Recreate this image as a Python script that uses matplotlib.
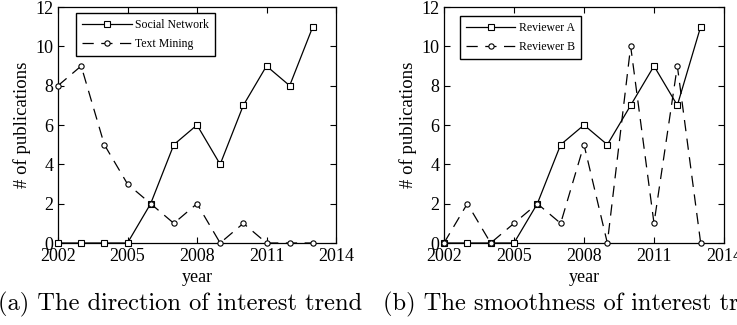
import matplotlib
matplotlib.use('Agg')
import matplotlib.pyplot as plt

# data
years = [2002, 2003, 2004, 2005, 2006, 2007, 2008, 2009, 2010, 2011, 2012, 2013]
social_network = [0, 0, 0, 0, 2, 5, 6, 4, 7, 9, 8, 11]
text_mining = [8, 9, 5, 3, 2, 1, 2, 0, 1, 0, 0, 0]
reviewer_a = [0, 0, 0, 0, 2, 5, 6, 5, 7, 9, 7, 11]
reviewer_b = [0, 2, 0, 1, 2, 1, 5, 0, 10, 1, 9, 0]
xticks = [2002, 2005, 2008, 2011, 2014]
yticks = [0, 2, 4, 6, 8, 10, 12]

W, H = 737, 325
plt.rcParams['font.family'] = ['Liberation Serif', 'DejaVu Serif']

fig = plt.figure(figsize=(W / 100, H / 100), dpi=100)


def px_axes(left, top, right, bottom):
    return fig.add_axes([left / W, 1 - bottom / H, (right - left) / W, (bottom - top) / H])


def draw(ax, a, b, la, lb, leg_anchor):
    ax.plot(years, a, color='black', lw=0.9, marker='s', ms=4.5, mfc='white', mec='black',
            mew=0.8, label=la, clip_on=False, zorder=3)
    ax.plot(years, b, color='black', lw=0.9, ls=(0, (9, 6)), marker='o', ms=3.8, mfc='white',
            mec='black', mew=0.8, label=lb, clip_on=False, zorder=3)
    ax.set_xlim(2002, 2014)
    ax.set_ylim(0, 12)
    ax.set_xticks(xticks)
    ax.set_yticks(yticks)
    ax.tick_params(direction='in', top=True, right=True, labelsize=13, length=4, pad=3.5)
    for s in ax.spines.values():
        s.set_linewidth(0.9)
    ax.set_xlabel('year', fontsize=13, labelpad=3)
    ax.set_ylabel('# of publications', fontsize=13.5, labelpad=3)
    leg = ax.legend(loc='upper left', bbox_to_anchor=leg_anchor, borderaxespad=0,
                    fontsize=8.5, fancybox=False, edgecolor='black', framealpha=1,
                    handlelength=4.2, borderpad=0.5, labelspacing=0.6, handletextpad=0.3)
    leg.get_frame().set_linewidth(1.0)


ax1 = px_axes(58, 7, 336, 243)
draw(ax1, social_network, text_mining, 'Social Network', 'Text Mining', (0.065, 0.975))
ax2 = px_axes(444, 7, 724, 243)
draw(ax2, reviewer_a, reviewer_b, 'Reviewer A', 'Reviewer B', (0.057, 0.96))

fig.text(-2 / W, 1 - 304 / H, '(a) The direction of interest trend', family='cmr10',
         fontsize=17.6, va='center', ha='left')
fig.text(383 / W, 1 - 304 / H, '(b) The smoothness of interest trend', family='cmr10',
         fontsize=17.6, va='center', ha='left')

fig.savefig('out.png', dpi=100)
